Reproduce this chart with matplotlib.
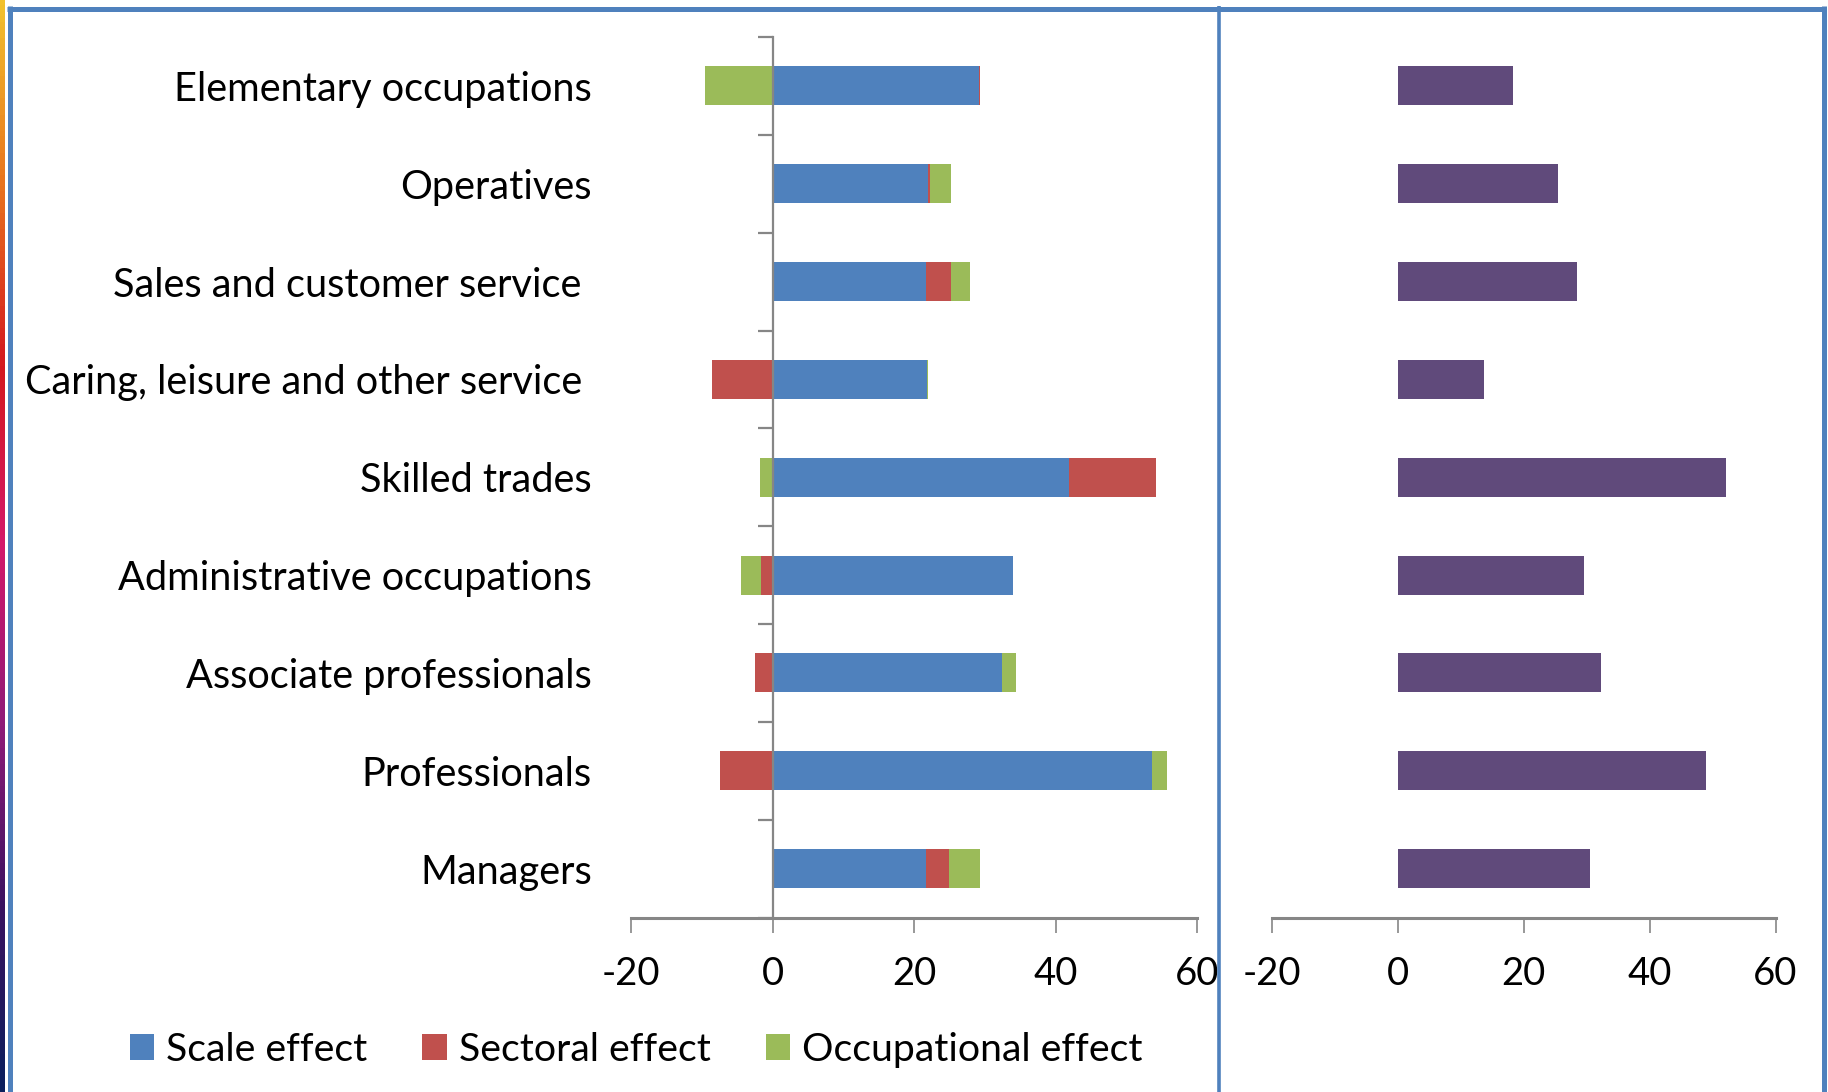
import numpy as np
import matplotlib
matplotlib.use("Agg")
import matplotlib.pyplot as plt
from matplotlib.patches import Patch
from matplotlib.lines import Line2D
from matplotlib.colors import LinearSegmentedColormap

plt.rcParams['font.family'] = ['Lato', 'DejaVu Sans']

# categories, top to bottom as in the chart
categories = ["Elementary occupations", "Operatives", "Sales and customer service ",
              "Caring, leisure and other service ", "Skilled trades",
              "Administrative occupations", "Associate professionals",
              "Professionals", "Managers"]
scale_effect = [29.2, 22.0, 21.7, 21.8, 41.9, 34.0, 32.4, 53.7, 21.7]
sectoral_effect = [0.1, 0.3, 3.6, -8.6, 12.3, -1.6, -2.5, -7.4, 3.2]
occupational_effect = [-9.5, 3.0, 2.6, 0.2, -1.8, -2.8, 2.0, 2.1, 4.4]
total_change = [18.3, 25.5, 28.5, 13.7, 52.1, 29.6, 32.2, 49.0, 30.5]
x_ticks = [-20, 0, 20, 40, 60]

series = [("Scale effect", scale_effect, "#4F81BD"),
          ("Sectoral effect", sectoral_effect, "#C0504D"),
          ("Occupational effect", occupational_effect, "#9BBB59")]

W, H = 1828, 1092
fig = plt.figure(figsize=(W / 100, H / 100), dpi=100)
fig.patch.set_facecolor("white")

grey = "#868686"
fs = 27.5
n = len(categories)
ypos = np.arange(n)[::-1]

bottom = 1 - 917.5 / H
height = (917.5 - 37) / H

# left panel: decomposition
ax = fig.add_axes([631 / W, bottom, 566 / W, height])
pos_cum = np.zeros(n)
neg_cum = np.zeros(n)
for name, vals, col in series:
    vals = np.array(vals)
    left = np.where(vals >= 0, pos_cum, neg_cum)
    ax.barh(ypos, vals, left=left, height=0.4, color=col, edgecolor="none")
    pos_cum = pos_cum + np.where(vals >= 0, vals, 0)
    neg_cum = neg_cum + np.where(vals < 0, vals, 0)

ax.set_xlim(-20, 60)
ax.set_ylim(-0.5, n - 0.5)
ax.set_xticks(x_ticks)
ax.set_xticklabels([str(t) for t in x_ticks])
ax.set_yticks(ypos)
ax.set_yticklabels(categories)
ax.set_yticks(np.arange(-0.5, n), minor=True)
ax.tick_params(axis="y", which="major", length=0, pad=130, labelsize=28.6)
ax.tick_params(axis="y", which="minor", direction="out", length=11, width=1.6, color=grey)
ax.tick_params(axis="x", direction="out", length=11, width=1.2, color=grey, pad=17, labelsize=fs)
ax.spines["left"].set_position(("data", 0))
ax.spines["left"].set_color(grey)
ax.spines["left"].set_linewidth(1.6)
ax.spines["bottom"].set_color(grey)
ax.spines["bottom"].set_linewidth(2.2)
ax.spines["top"].set_visible(False)
ax.spines["right"].set_visible(False)
ax.patch.set_alpha(0)

# right panel: total change
ax2 = fig.add_axes([1272 / W, bottom, 503.5 / W, height])
ax2.barh(ypos, total_change, height=0.4, color="#604A7B", edgecolor="none")
ax2.set_xlim(-20, 60)
ax2.set_ylim(-0.5, n - 0.5)
ax2.set_xticks(x_ticks)
ax2.set_xticklabels([str(t) for t in x_ticks])
ax2.set_yticks([])
ax2.tick_params(axis="x", direction="out", length=11, width=1.2, color=grey, pad=17, labelsize=fs)
for s in ["left", "top", "right"]:
    ax2.spines[s].set_visible(False)
ax2.spines["bottom"].set_color(grey)
ax2.spines["bottom"].set_linewidth(2.2)
ax2.patch.set_alpha(0)

# legend
handles = [Patch(facecolor=c, edgecolor="none", label=nm) for nm, _, c in series]
fig.legend(handles=handles, loc="center left", bbox_to_anchor=(130 / W, 1 - 1050 / H),
           ncol=3, frameon=False, fontsize=28.3, handlelength=0.62, handleheight=0.62,
           handletextpad=0.3, columnspacing=1.4, borderpad=0, borderaxespad=0)

# slide frame
blue = "#4F81BD"
fig.add_artist(Line2D([7 / W, 1826 / W], [1 - 8.5 / H] * 2, color=blue, lw=3.6,
                      transform=fig.transFigure, solid_capstyle="butt"))
for xp in [9.5, 1218.5, 1824]:
    fig.add_artist(Line2D([xp / W] * 2, [0, 1 - 6 / H], color=blue, lw=3.6 if xp != 1218.5 else 2.6,
                          transform=fig.transFigure, solid_capstyle="butt"))

# coloured strip on the far left edge
strip = fig.add_axes([0, 0, 5 / W, 1])
cmap = LinearSegmentedColormap.from_list("edge", ["#F2C12E", "#E8731E", "#D4181E", "#D3176A",
                                                   "#8E1A78", "#3B1260", "#0B1F5C"])
strip.imshow(np.linspace(0, 1, 200).reshape(-1, 1), aspect="auto", cmap=cmap)
strip.axis("off")

fig.savefig("out.png", dpi=100)
